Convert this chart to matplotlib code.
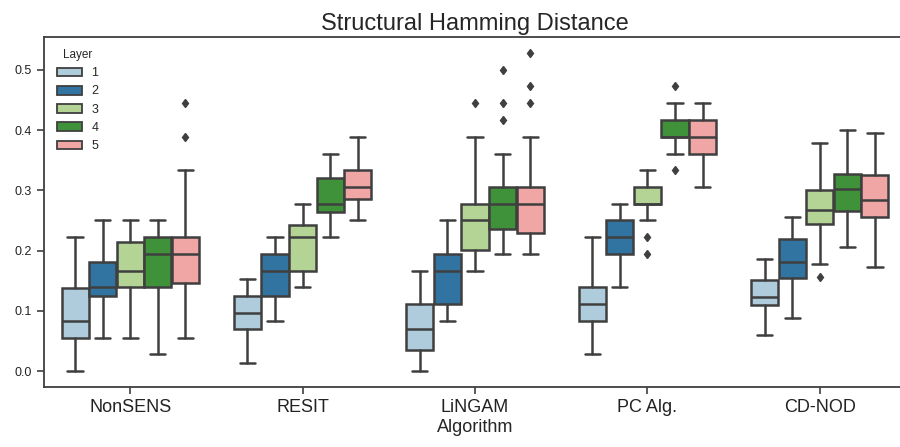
import numpy as np
import matplotlib
matplotlib.use("Agg")
import matplotlib.pyplot as plt
import seaborn as sns
from matplotlib.patches import Patch

algorithms = ["NonSENS", "RESIT", "LiNGAM", "PC Alg.", "CD-NOD"]
layers = ["1", "2", "3", "4", "5"]

# rows = algorithm, cols = layer
whislo = [[0.000, 0.056, 0.056, 0.028, 0.056],
          [0.014, 0.083, 0.139, 0.222, 0.250],
          [0.000, 0.083, 0.167, 0.195, 0.195],
          [0.028, 0.139, 0.250, 0.361, 0.306],
          [0.061, 0.089, 0.178, 0.206, 0.173]]
q1 = [[0.056, 0.125, 0.139, 0.139, 0.147],
      [0.070, 0.125, 0.167, 0.264, 0.285],
      [0.035, 0.111, 0.201, 0.236, 0.230],
      [0.083, 0.195, 0.278, 0.389, 0.361],
      [0.110, 0.154, 0.245, 0.266, 0.256]]
med = [[0.083, 0.139, 0.167, 0.195, 0.195],
       [0.097, 0.167, 0.222, 0.278, 0.306],
       [0.070, 0.167, 0.250, 0.278, 0.278],
       [0.111, 0.222, 0.278, 0.389, 0.389],
       [0.124, 0.182, 0.267, 0.302, 0.284]]
q3 = [[0.138, 0.181, 0.215, 0.222, 0.222],
      [0.125, 0.195, 0.243, 0.320, 0.334],
      [0.111, 0.195, 0.278, 0.306, 0.306],
      [0.139, 0.250, 0.306, 0.417, 0.417],
      [0.152, 0.219, 0.301, 0.327, 0.326]]
whishi = [[0.222, 0.250, 0.250, 0.250, 0.334],
          [0.153, 0.222, 0.278, 0.361, 0.389],
          [0.167, 0.250, 0.389, 0.361, 0.389],
          [0.222, 0.278, 0.334, 0.445, 0.445],
          [0.187, 0.256, 0.378, 0.400, 0.395]]
fliers = {(0, 4): [0.445, 0.389],
          (2, 2): [0.445],
          (2, 3): [0.417, 0.445, 0.500],
          (2, 4): [0.445, 0.473, 0.528],
          (3, 2): [0.222, 0.195],
          (3, 3): [0.473, 0.334],
          (4, 2): [0.156]}

colors = [sns.desaturate(c, 0.75) for c in sns.color_palette("Paired", 5)]
gray = "#3f3f3f"

sns.set_style("ticks")
plt.rcParams["font.family"] = ["Liberation Sans", "DejaVu Sans"]
fig = plt.figure(figsize=(9, 4.47), dpi=100)
ax = fig.add_axes([44 / 900, 1 - 387 / 447, (906 - 44) / 900, (387 - 36.5) / 447])

w = 0.16
for i in range(len(algorithms)):
    for j in range(len(layers)):
        st = dict(med=med[i][j], q1=q1[i][j], q3=q3[i][j],
                  whislo=whislo[i][j], whishi=whishi[i][j],
                  fliers=fliers.get((i, j), []))
        pos = i + (j - 2) * w
        bp = ax.bxp([st], positions=[pos], widths=w * 0.98, capwidths=w * 0.55,
                    patch_artist=True, showfliers=True,
                    boxprops=dict(facecolor=colors[j], edgecolor=gray, linewidth=1.8),
                    medianprops=dict(color=gray, linewidth=1.8),
                    whiskerprops=dict(color=gray, linewidth=1.8),
                    capprops=dict(color=gray, linewidth=1.8),
                    flierprops=dict(marker="d", markerfacecolor=gray, markeredgecolor=gray,
                                    markersize=4.5))

ax.set_xlim(-0.5, 4.5)
ax.set_ylim(-0.026, 0.555)
ax.set_xticks(range(len(algorithms)))
ax.set_xticklabels(algorithms, fontsize=13)
ax.set_yticks([0.0, 0.1, 0.2, 0.3, 0.4, 0.5])
ax.set_yticklabels(["0.0", "0.1", "0.2", "0.3", "0.4", "0.5"], fontsize=9)
for s in ax.spines.values():
    s.set_color(gray)
    s.set_linewidth(1.3)
ax.tick_params(colors=gray, labelcolor="#222222", width=1.2, length=5)
ax.set_xlabel("Algorithm", fontsize=13, labelpad=2)
ax.set_title("Structural Hamming Distance", fontsize=17, pad=5)

handles = [Patch(facecolor=colors[j], edgecolor=gray, linewidth=1.3, label=layers[j])
           for j in range(len(layers))]
ax.legend(handles=handles, title="Layer", loc="upper left", frameon=False,
          fontsize=9, title_fontsize=8.5, borderaxespad=0.6)

fig.savefig("out.png", dpi=100)
